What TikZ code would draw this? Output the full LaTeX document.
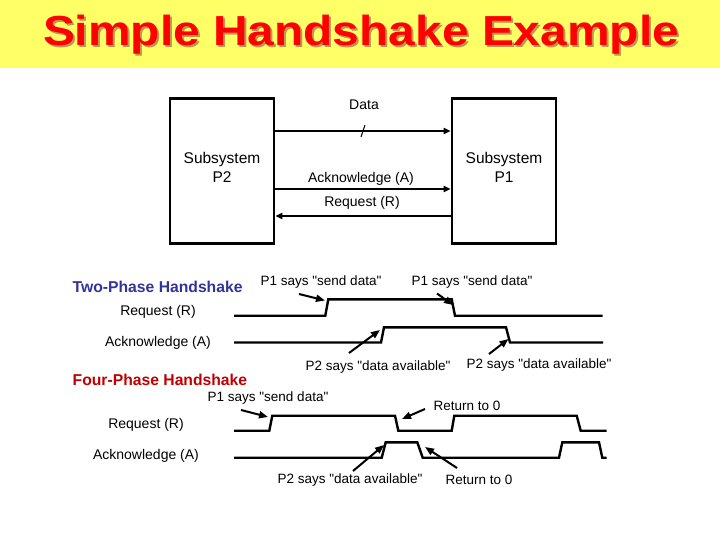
\documentclass[tikz,border=0pt]{standalone}
\usepackage{fontspec}
\setmainfont{Liberation Sans}
\usepackage{tikz}
\usetikzlibrary{positioning, arrows.meta}
\definecolor{bandyellow}{RGB}{255,255,102}
\definecolor{titlered}{RGB}{255,0,0}
\definecolor{titleshade}{RGB}{190,150,80}
\definecolor{twoblue}{RGB}{51,51,153}
\definecolor{fourred}{RGB}{192,0,0}
\newcommand{\dq}{\textquotedbl}
\newcommand{\wide}[1]{\scalebox{1.14}[1]{#1}}
\tikzstyle{subsys} = [draw=black, line width=2.7pt, minimum width=104pt, minimum height=145pt]
\tikzstyle{wire} = [line width=2pt, -{Triangle[length=7pt,width=6pt]}]
\tikzstyle{wave} = [line width=2.4pt, line join=miter]
\tikzstyle{tip} = [line width=2pt, -{Triangle[length=9pt,width=7pt]}]

\begin{document}
\begin{tikzpicture}[
    x=1pt, y=-1pt,
    every node/.style={inner sep=0pt, font=\fontsize{14}{16}\selectfont},
    note/.style={font=\fontsize{13.5}{16}\selectfont},
    head/.style={anchor=base west, font=\fontsize{15.7}{18}\selectfont\bfseries},
    boxtext/.style={align=center, font=\fontsize{15.5}{19}\selectfont},
    titletext/.style={anchor=base, font=\fontsize{42}{48}\selectfont\bfseries}
]
\useasboundingbox (0,0) rectangle (720,540);
\fill[white] (0,0) rectangle (720,540);

% Title
\fill[bandyellow] (0,0) rectangle (720,68);
\node[titletext, text=titleshade] (shade) at (363,48) {\wide{Simple Handshake Example}};
\node[titletext, text=titlered] (title) at (361,46) {\wide{Simple Handshake Example}};

% Subsystems
\node[subsys] (p2) at (222,171) {};
\node[subsys] (p1) at (504,171) {};
\node[boxtext] (p2txt) at ([yshift=4pt]p2.center) {Subsystem\\P2};
\node[boxtext] (p1txt) at ([yshift=4pt]p1.center) {Subsystem\\P1};

% Wires
\draw[wire] ([yshift=40pt]p2.east) -- ([yshift=40pt]p1.west);
\draw[wire] ([yshift=-18pt]p2.east) -- ([yshift=-18pt]p1.west);
\draw[wire] ([yshift=-45pt]p1.west) -- ([yshift=-45pt]p2.east);
\draw[line width=1pt] (361,137) -- (365,125);
\node (data) at (364,105) {Data};
\node (ack) at (361,179) {Acknowledge (A)};
\node (req) at (362,203) {Request (R)};

% Two-phase
\node[head, text=twoblue] (two) at (72.5,292.3) {Two-Phase Handshake};
\node (tworeq) at (158,312) {Request (R)};
\node (twoack) at (158,343) {Acknowledge (A)};
\draw[wave] (234,315.7) -- (325.3,315.7) -- (328.3,299.3) -- (451.7,299.3) -- (455,315.7) -- (602.7,315.7);
\draw[wave] (234,342.5) -- (381,342.5) -- (384,327.3) -- (506,327.3) -- (510,342.5) -- (603,342.5);

\node[note] (send1) at (321,282) {P1 says \dq send data\dq};
\node[note] (send2) at (472,282) {P1 says \dq send data\dq};
\node[note] (avail1) at (378,367) {P2 says \dq data available\dq};
\node[note] (avail2) at (539,365) {P2 says \dq data available\dq};
\coordinate (s1a) at (299,294);   \coordinate (s1b) at (325,300.5);
\coordinate (s2a) at (437,293.5); \coordinate (s2b) at (453,305);
\coordinate (v1a) at (349,353);   \coordinate (v1b) at (380,330);
\coordinate (v2a) at (489,354);   \coordinate (v2b) at (508.5,339);
\draw[tip] (s1a) -- (s1b);
\draw[tip] (s2a) -- (s2b);
\draw[tip] (v1a) -- (v1b);
\draw[tip] (v2a) -- (v2b);

% Four-phase
\node[head, text=fourred] (four) at (72.5,385.7) {Four-Phase Handshake};
\node (fourreq) at (146,425) {Request (R)};
\node (fourack) at (146,456) {Acknowledge (A)};
\draw[wave] (234,430.7) -- (269.3,430.7) -- (272.3,415.7) -- (395,415.7) -- (398.3,430.7) -- (451.7,430.7) -- (454.3,415.7) -- (576.7,415.7) -- (580.7,430.7) -- (606.7,430.7);
\draw[wave] (234,457.7) -- (381.7,457.7) -- (385.7,442.3) -- (417.3,442.3) -- (422.7,457.7) -- (559,457.7) -- (562.3,442.3) -- (599,442.3) -- (602.3,457.7) -- (606.7,457.7);

\node[note] (send3) at (268,398) {P1 says \dq send data\dq};
\node[note] (zero1) at (467,406) {Return to 0};
\node[note] (avail3) at (350,480) {P2 says \dq data available\dq};
\node[note] (zero2) at (479,480) {Return to 0};
\coordinate (s3a) at (241,410);   \coordinate (s3b) at (268,417);
\coordinate (z1a) at (425,409);   \coordinate (z1b) at (402,419);
\coordinate (v3a) at (353,471);   \coordinate (v3b) at (384,445);
\coordinate (z2a) at (457,468);   \coordinate (z2b) at (425,447);
\draw[tip] (s3a) -- (s3b);
\draw[tip] (z1a) -- (z1b);
\draw[tip] (v3a) -- (v3b);
\draw[tip] (z2a) -- (z2b);

\end{tikzpicture}
\end{document}
